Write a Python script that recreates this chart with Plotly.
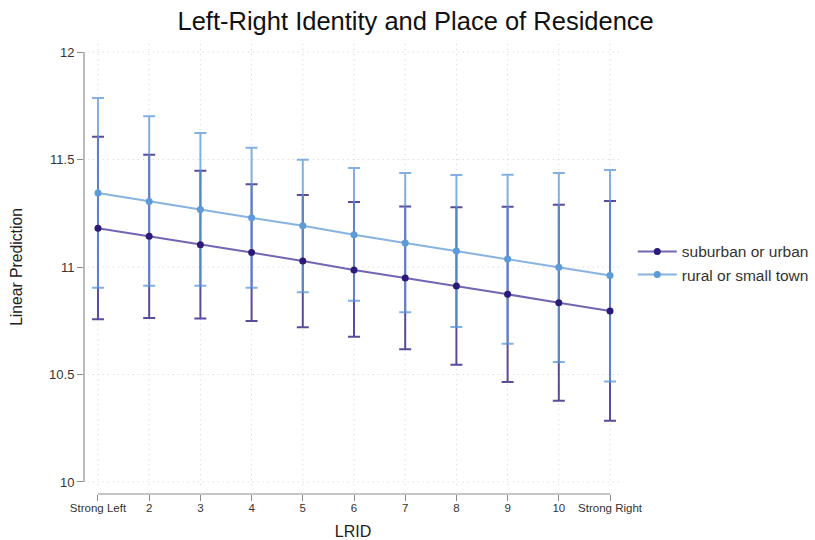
import plotly.graph_objects as go

# ---- data ----
lrid = [1, 2, 3, 4, 5, 6, 7, 8, 9, 10, 11]
x_tick_labels = ["Strong Left", "2", "3", "4", "5", "6", "7", "8", "9", "10", "Strong Right"]
y_ticks = [10, 10.5, 11, 11.5, 12]
y_tick_labels = ["10", "10.5", "11", "11.5", "12"]

sub_name = "suburban or urban"
sub_mean = [11.180, 11.143, 11.104, 11.067, 11.028, 10.986, 10.949, 10.912, 10.873, 10.834, 10.795]
sub_hi = [11.606, 11.522, 11.448, 11.385, 11.335, 11.302, 11.282, 11.278, 11.280, 11.290, 11.307]
sub_lo = [10.757, 10.763, 10.760, 10.749, 10.720, 10.676, 10.617, 10.545, 10.465, 10.378, 10.285]

rur_name = "rural or small town"
rur_mean = [11.344, 11.305, 11.268, 11.229, 11.192, 11.150, 11.112, 11.074, 11.037, 10.999, 10.960]
rur_hi = [11.786, 11.701, 11.623, 11.555, 11.499, 11.460, 11.437, 11.428, 11.429, 11.437, 11.451]
rur_lo = [10.904, 10.913, 10.913, 10.904, 10.882, 10.843, 10.789, 10.721, 10.643, 10.558, 10.467]

FONT = "Liberation Sans, Arial, Helvetica, sans-serif"

series = [
    dict(name=sub_name, mean=sub_mean, hi=sub_hi, lo=sub_lo,
         err="rgba(50,30,130,0.80)", line="rgba(80,62,160,0.80)", marker="#2c1a78"),
    dict(name=rur_name, mean=rur_mean, hi=rur_hi, lo=rur_lo,
         err="rgba(90,150,215,0.75)", line="rgba(115,165,218,0.85)", marker="#5c9bd8"),
]

fig = go.Figure()

# error bars first
for s in series:
    plus = [h - m for h, m in zip(s["hi"], s["mean"])]
    minus = [m - l for m, l in zip(s["mean"], s["lo"])]
    fig.add_trace(go.Scatter(
        x=lrid, y=s["mean"], mode="markers",
        marker=dict(size=1, color="rgba(0,0,0,0)"),
        error_y=dict(type="data", symmetric=False, array=plus, arrayminus=minus,
                     color=s["err"], thickness=2, width=6),
        showlegend=False, hoverinfo="skip"))

# lines + markers on top
for s in series:
    fig.add_trace(go.Scatter(
        x=lrid, y=s["mean"], mode="lines+markers", name=s["name"],
        line=dict(color=s["line"], width=2),
        marker=dict(color=s["marker"], size=7)))

x_lo, x_hi = 0.727, 11.234
y_lo, y_hi = 9.944, 12.056

grid_style = dict(color="#cfcfcf", width=1, dash="1px,4px")
shapes = []
# vertical dotted grid lines
for xv in lrid:
    shapes.append(dict(type="line", xref="x", yref="y", x0=xv, x1=xv, y0=9.985, y1=y_hi,
                       line=grid_style, layer="below"))
# horizontal dotted grid lines
for yv in y_ticks:
    shapes.append(dict(type="line", xref="x", yref="y", x0=0.80, x1=11.20, y0=yv, y1=yv,
                       line=grid_style, layer="below"))
# y axis line (only over tick range)
shapes.append(dict(type="line", xref="paper", yref="y", x0=0, x1=0, y0=y_ticks[0], y1=y_ticks[-1],
                   line=dict(color="#8c8c8c", width=1.2)))
# x axis line (only over tick range)
shapes.append(dict(type="line", xref="x", yref="paper", x0=lrid[0], x1=lrid[-1], y0=0, y1=0,
                   line=dict(color="#8c8c8c", width=1.2)))

fig.update_layout(
    width=815, height=540,
    paper_bgcolor="white", plot_bgcolor="white",
    margin=dict(l=84, r=193, t=40, b=46, autoexpand=False),
    font=dict(family=FONT, color="#222222"),
    title=dict(text="Left-Right Identity and Place of Residence",
               font=dict(size=25.5, family=FONT, color="#111111"),
               x=0.51, xanchor="center", y=0.961, yanchor="middle"),
    xaxis=dict(range=[x_lo, x_hi], tickmode="array", tickvals=lrid, ticktext=x_tick_labels,
               showgrid=False, zeroline=False, showline=False, automargin=False,
               ticks="outside", ticklen=6, tickcolor="#8c8c8c", ticklabelstandoff=-3,
               tickfont=dict(size=11.5, color="#333333"),
               title=dict(text="LRID", font=dict(size=16, color="#222222"), standoff=15)),
    yaxis=dict(range=[y_lo, y_hi], tickmode="array", tickvals=y_ticks, ticktext=y_tick_labels,
               showgrid=False, zeroline=False, showline=False, automargin=False,
               ticks="outside", ticklen=6, tickcolor="#8c8c8c",
               tickfont=dict(size=13, color="#333333"),
               title=dict(text="Linear Prediction", font=dict(size=15.7, color="#222222"), standoff=22)),
    legend=dict(x=1.02, xanchor="left", y=0.508, yanchor="middle", itemwidth=39,
                font=dict(size=15.5, color="#333333"), bgcolor="rgba(0,0,0,0)"),
    shapes=shapes,
)

fig.write_html("out.html")
